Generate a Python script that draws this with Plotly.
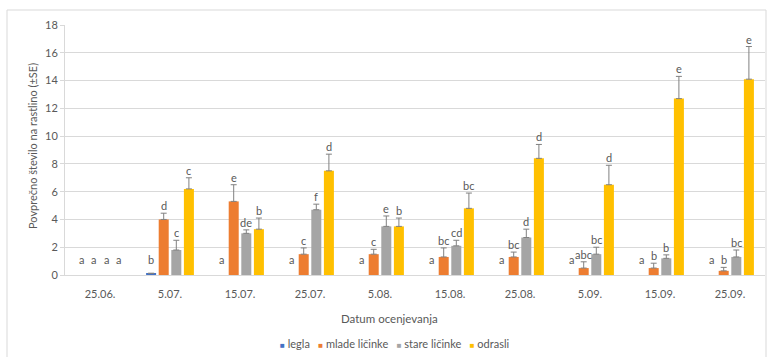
import numpy as np
import plotly.graph_objects as go

# Observation dates
dates = ["25.06.", "5.07.", "15.07.", "25.07.", "5.08.", "15.08.", "25.08.", "5.09.", "15.09.", "25.09."]

# Mean number per plant for each developmental stage
legla = [0, 0.12, 0, 0, 0, 0, 0, 0, 0, 0]
mlade = [0, 4.0, 5.3, 1.5, 1.5, 1.3, 1.3, 0.5, 0.5, 0.3]
stare = [0, 1.8, 3.0, 4.7, 3.5, 2.1, 2.7, 1.5, 1.2, 1.3]
odrasli = [0, 6.2, 3.3, 7.5, 3.5, 4.8, 8.4, 6.5, 12.7, 14.1]

# Standard errors (upper whisker only)
se_legla = [None] * 10
se_mlade = [None, 0.45, 1.2, 0.45, 0.35, 0.65, 0.35, 0.45, 0.35, 0.25]
se_stare = [None, 0.7, 0.25, 0.4, 0.75, 0.4, 0.6, 0.5, 0.25, 0.5]
se_odrasli = [None, 0.8, 0.8, 1.2, 0.6, 1.1, 1.0, 1.4, 1.6, 2.35]

# Significance letters
let_legla = ["a", "b", "a", "a", "a", "a", "a", "a", "a", "a"]
let_mlade = ["a", "d", "e", "c", "c", "bc", "bc", "abc", "b", "b"]
let_stare = ["a", "c", "de", "f", "e", "cd", "d", "bc", "b", "bc"]
let_odrasli = ["a", "c", "b", "d", "b", "bc", "d", "d", "e", "e"]

series = [
    ("legla", legla, se_legla, let_legla, "#4472C4"),
    ("mlade ličinke", mlade, se_mlade, let_mlade, "#ED7D31"),
    ("stare ličinke", stare, se_stare, let_stare, "#A5A5A5"),
    ("odrasli", odrasli, se_odrasli, let_odrasli, "#FFC000"),
]

FONT = "Lato"
TXT = "#595959"
GRID = "#D9D9D9"
W, H = 767, 357
L, R, T, B = 65, 2, 25, 82
PW, PH = W - L - R, H - T - B

BAR_W = 0.143
PITCH = 0.18
LABEL_FLOOR = 0.6

idx = np.arange(len(dates))
fig = go.Figure()
annotations = []

for k, (name, vals, se, letters, color) in enumerate(series):
    off = (k - 1.5) * PITCH
    xs = idx + off
    # zero-height bars are left undrawn, only their letter is shown
    ys = [v if v > 0 else None for v in vals]
    up = [e if (e is not None and v > 0) else None for v, e in zip(vals, se)]
    down = [0 if u is not None else None for u in up]
    fig.add_trace(go.Bar(
        x=xs, y=ys, width=BAR_W, name=name, marker_color=color,
        marker_line_width=0, showlegend=False,
        error_y=dict(type="data", array=up, arrayminus=down, symmetric=False,
                     color="#808080", thickness=1, width=3),
        hoverinfo="skip",
    ))
    for i, v in enumerate(vals):
        top = v + (0 if se[i] is None else se[i])
        annotations.append(dict(
            x=xs[i], y=max(top, LABEL_FLOOR), xref="x", yref="y",
            text=letters[i], showarrow=False, yanchor="bottom", yshift=-1,
            font=dict(family=FONT, size=11, color=TXT),
        ))

# x-axis title
annotations.append(dict(
    x=(389 - L) / PW, y=(T + PH - 318) / PH, xref="paper", yref="paper",
    text="Datum ocenjevanja", showarrow=False, xanchor="center", yanchor="middle",
    font=dict(family=FONT, size=11.5, color=TXT),
))
# y-axis title
annotations.append(dict(
    x=(32 - L) / PW, y=(T + PH - 146) / PH, xref="paper", yref="paper",
    text="Povprečno število na rastlino (±SE)", showarrow=False, textangle=-90,
    xanchor="center", yanchor="middle",
    font=dict(family=FONT, size=11, color=TXT),
))
# legend row
legend_txt = "&nbsp;&nbsp;&nbsp;".join(
    f"<span style='color:{c};font-size:8px'>■</span> {n}" for n, _, _, _, c in series
)
annotations.append(dict(
    x=(395 - L) / PW, y=(T + PH - 343) / PH, xref="paper", yref="paper",
    text=legend_txt, showarrow=False, xanchor="center", yanchor="middle",
    font=dict(family=FONT, size=11, color=TXT),
))

fig.update_layout(
    width=W, height=H,
    margin=dict(l=L, r=R, t=T, b=B, pad=0),
    paper_bgcolor="white", plot_bgcolor="white",
    barmode="overlay",
    annotations=annotations,
    shapes=[dict(
        type="rect", xref="paper", yref="paper",
        x0=(7 - L) / PW, x1=(766 - L) / PW,
        y0=(T + PH - 400) / PH, y1=(T + PH - 10) / PH,
        line=dict(color=GRID, width=1), fillcolor="rgba(0,0,0,0)", layer="below",
    )],
    xaxis=dict(
        range=[-0.5, len(dates) - 0.5], tickvals=idx, ticktext=dates,
        showgrid=False, zeroline=False, showline=True, linecolor=GRID, linewidth=1,
        ticks="", ticklabelstandoff=9,
        tickfont=dict(family=FONT, size=11, color=TXT),
    ),
    yaxis=dict(
        range=[0, 18], dtick=2, showgrid=True, gridcolor=GRID, gridwidth=1,
        zeroline=False, showline=True, linecolor=GRID, linewidth=1,
        ticks="outside", ticklen=4, tickcolor=GRID,
        tickfont=dict(family=FONT, size=11, color=TXT),
    ),
)

fig.write_html("out.html")
